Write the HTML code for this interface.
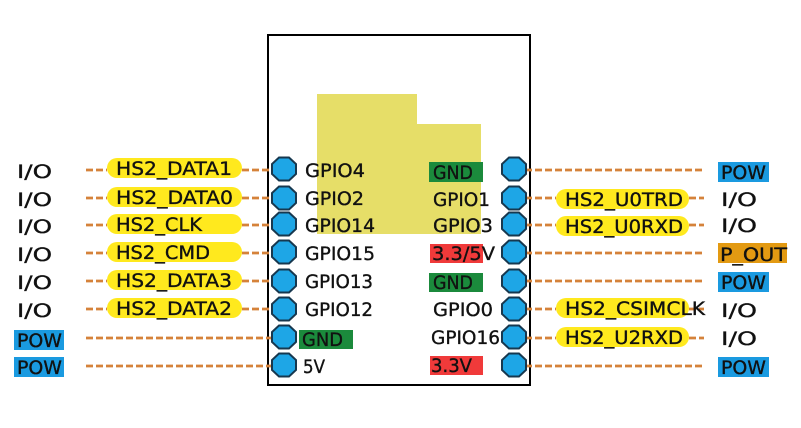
<!DOCTYPE html>
<html><head><meta charset="utf-8"><style>
html,body{margin:0;padding:0;background:#fff;}
svg{display:block;}
text{font-family:"DejaVu Sans","Liberation Sans",sans-serif;font-size:19px;fill:#111;stroke:#111;stroke-width:0.35px;}
</style></head><body>
<svg width="801" height="428" viewBox="0 0 801 428" xmlns="http://www.w3.org/2000/svg">
<defs>
<polygon id="pin" points="-5,-11.5 5,-11.5 12,-5 12,5 5,11.5 -5,11.5 -12,5 -12,-5" fill="#1ea6e6" stroke="#17384f" stroke-width="2"/>
</defs>
<rect width="801" height="428" fill="#fff"/>
<!-- module box -->
<rect x="268" y="35" width="262" height="350" fill="#fff" stroke="#000" stroke-width="2"/>
<!-- yellow block -->
<polygon points="317,94 417,94 417,124 481,124 481,234 317,234" fill="#e6de68"/>

<!-- dashes -->
<g stroke="#d5823a" stroke-width="2.8" stroke-dasharray="7 3" fill="none">
<line x1="86" y1="170" x2="107" y2="170"/><line x1="242" y1="170" x2="284" y2="170"/>
<line x1="86" y1="198" x2="107" y2="198"/><line x1="242" y1="198" x2="284" y2="198"/>
<line x1="86" y1="225" x2="107" y2="225"/><line x1="242" y1="225" x2="284" y2="225"/>
<line x1="86" y1="253" x2="107" y2="253"/><line x1="242" y1="253" x2="284" y2="253"/>
<line x1="86" y1="281" x2="107" y2="281"/><line x1="242" y1="281" x2="284" y2="281"/>
<line x1="86" y1="309" x2="107" y2="309"/><line x1="242" y1="309" x2="284" y2="309"/>
<line x1="86" y1="338" x2="284" y2="338"/>
<line x1="86" y1="366" x2="284" y2="366"/>
<line x1="515" y1="170" x2="704" y2="170"/>
<line x1="515" y1="198" x2="556" y2="198"/><line x1="689" y1="198" x2="704" y2="198"/>
<line x1="515" y1="225" x2="556" y2="225"/><line x1="689" y1="225" x2="704" y2="225"/>
<line x1="515" y1="253" x2="704" y2="253"/>
<line x1="515" y1="281" x2="704" y2="281"/>
<line x1="515" y1="309" x2="556" y2="309"/><line x1="689" y1="309" x2="704" y2="309"/>
<line x1="515" y1="338" x2="556" y2="338"/><line x1="689" y1="338" x2="704" y2="338"/>
<line x1="515" y1="366" x2="704" y2="366"/>
</g>

<!-- pills -->
<g fill="#ffe91e">
<rect x="107" y="158" width="135" height="20" rx="10"/>
<rect x="107" y="187" width="135" height="20" rx="10"/>
<rect x="107" y="214" width="135" height="20" rx="10"/>
<rect x="107" y="242" width="135" height="20" rx="10"/>
<rect x="107" y="270" width="135" height="20" rx="10"/>
<rect x="107" y="298" width="135" height="20" rx="10"/>
<rect x="556" y="189" width="133" height="20" rx="10"/>
<rect x="556" y="216" width="133" height="20" rx="10"/>
<rect x="556" y="298" width="133" height="20" rx="10"/>
<rect x="556" y="327" width="133" height="20" rx="10"/>
</g>

<!-- colored label boxes -->
<rect x="14" y="330" width="50" height="20" fill="#1a9ae0"/>
<rect x="14" y="357" width="50" height="20" fill="#1a9ae0"/>
<rect x="718" y="162" width="51" height="20" fill="#1a9ae0"/>
<rect x="718" y="272" width="51" height="20" fill="#1a9ae0"/>
<rect x="718" y="357" width="51" height="20" fill="#1a9ae0"/>
<rect x="718" y="243" width="69" height="20" fill="#e39a12"/>
<rect x="429" y="162" width="54" height="20" fill="#1b8a3c"/>
<rect x="429" y="273" width="54" height="19" fill="#1b8a3c"/>
<rect x="299" y="330" width="54" height="19" fill="#1b8a3c"/>
<rect x="430" y="244" width="53" height="19" fill="#f03a3a"/>
<rect x="430" y="356" width="53" height="19" fill="#f03a3a"/>

<!-- pins -->
<use href="#pin" x="284" y="169"/><use href="#pin" x="284" y="198"/>
<use href="#pin" x="284" y="224"/><use href="#pin" x="284" y="252"/>
<use href="#pin" x="284" y="281"/><use href="#pin" x="284" y="309"/>
<use href="#pin" x="284" y="337"/><use href="#pin" x="284" y="365"/>
<use href="#pin" x="514" y="169"/><use href="#pin" x="514" y="198"/>
<use href="#pin" x="514" y="224"/><use href="#pin" x="514" y="252"/>
<use href="#pin" x="514" y="281"/><use href="#pin" x="514" y="309"/>
<use href="#pin" x="514" y="337"/><use href="#pin" x="514" y="365"/>

<g>
<text x="17" y="178" textLength="35" lengthAdjust="spacingAndGlyphs">I/O</text>
<text x="17" y="206" textLength="35" lengthAdjust="spacingAndGlyphs">I/O</text>
<text x="17" y="233" textLength="35" lengthAdjust="spacingAndGlyphs">I/O</text>
<text x="17" y="261" textLength="35" lengthAdjust="spacingAndGlyphs">I/O</text>
<text x="17" y="289" textLength="35" lengthAdjust="spacingAndGlyphs">I/O</text>
<text x="17" y="317" textLength="35" lengthAdjust="spacingAndGlyphs">I/O</text>
<text x="17" y="347" textLength="45" lengthAdjust="spacingAndGlyphs">POW</text>
<text x="17" y="374" textLength="45" lengthAdjust="spacingAndGlyphs">POW</text>

<text x="116" y="175" textLength="116" lengthAdjust="spacingAndGlyphs">HS2_DATA1</text>
<text x="116" y="204" textLength="117" lengthAdjust="spacingAndGlyphs">HS2_DATA0</text>
<text x="116" y="231" textLength="86" lengthAdjust="spacingAndGlyphs">HS2_CLK</text>
<text x="116" y="259" textLength="94" lengthAdjust="spacingAndGlyphs">HS2_CMD</text>
<text x="116" y="287" textLength="116" lengthAdjust="spacingAndGlyphs">HS2_DATA3</text>
<text x="116" y="315" textLength="116" lengthAdjust="spacingAndGlyphs">HS2_DATA2</text>

<text x="305" y="177" textLength="60" lengthAdjust="spacingAndGlyphs">GPIO4</text>
<text x="305" y="205" textLength="59" lengthAdjust="spacingAndGlyphs">GPIO2</text>
<text x="305" y="232" textLength="70" lengthAdjust="spacingAndGlyphs">GPIO14</text>
<text x="305" y="260" textLength="70" lengthAdjust="spacingAndGlyphs">GPIO15</text>
<text x="305" y="288" textLength="68" lengthAdjust="spacingAndGlyphs">GPIO13</text>
<text x="305" y="316" textLength="68" lengthAdjust="spacingAndGlyphs">GPIO12</text>
<text x="302" y="346" textLength="41" lengthAdjust="spacingAndGlyphs">GND</text>
<text x="303" y="373" textLength="22" lengthAdjust="spacingAndGlyphs">5V</text>

<text x="433" y="179" textLength="40" lengthAdjust="spacingAndGlyphs">GND</text>
<text x="433" y="206" textLength="57" lengthAdjust="spacingAndGlyphs">GPIO1</text>
<text x="433" y="232" textLength="60" lengthAdjust="spacingAndGlyphs">GPIO3</text>
<text x="432" y="260" textLength="63" lengthAdjust="spacingAndGlyphs">3.3/5V</text>
<text x="433" y="289" textLength="40" lengthAdjust="spacingAndGlyphs">GND</text>
<text x="433" y="316" textLength="60" lengthAdjust="spacingAndGlyphs">GPIO0</text>
<text x="431" y="344" textLength="69" lengthAdjust="spacingAndGlyphs">GPIO16</text>
<text x="431" y="372" textLength="41" lengthAdjust="spacingAndGlyphs">3.3V</text>

<text x="565" y="206" textLength="118" lengthAdjust="spacingAndGlyphs">HS2_U0TRD</text>
<text x="565" y="233" textLength="118" lengthAdjust="spacingAndGlyphs">HS2_U0RXD</text>
<text x="565" y="315" textLength="140" lengthAdjust="spacingAndGlyphs">HS2_CSIMCLK</text>
<text x="565" y="344" textLength="118" lengthAdjust="spacingAndGlyphs">HS2_U2RXD</text>

<text x="721" y="179" textLength="45" lengthAdjust="spacingAndGlyphs">POW</text>
<text x="721" y="206" textLength="36" lengthAdjust="spacingAndGlyphs">I/O</text>
<text x="721" y="232" textLength="36" lengthAdjust="spacingAndGlyphs">I/O</text>
<text x="720" y="261" textLength="67" lengthAdjust="spacingAndGlyphs">P_OUT</text>
<text x="721" y="289" textLength="45" lengthAdjust="spacingAndGlyphs">POW</text>
<text x="721" y="317" textLength="36" lengthAdjust="spacingAndGlyphs">I/O</text>
<text x="721" y="345" textLength="36" lengthAdjust="spacingAndGlyphs">I/O</text>
<text x="721" y="374" textLength="45" lengthAdjust="spacingAndGlyphs">POW</text>
</g>
</svg>
</body></html>
